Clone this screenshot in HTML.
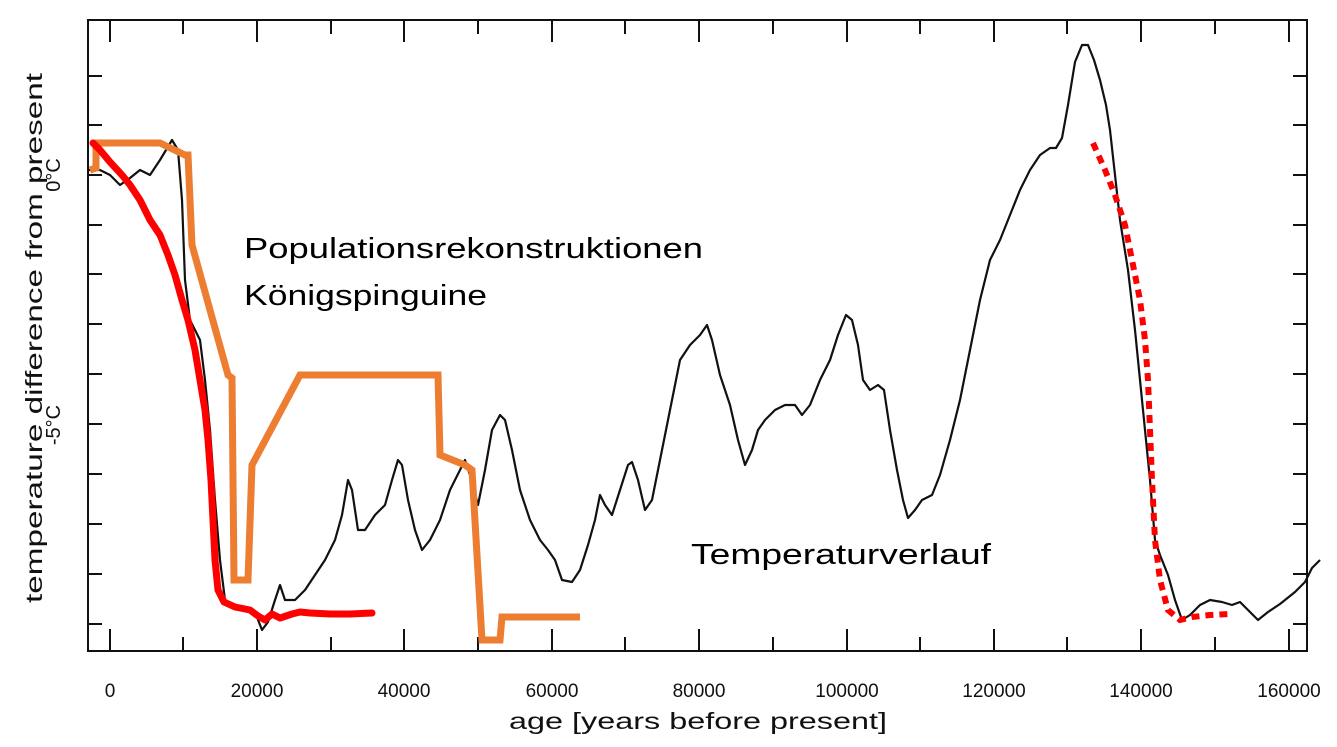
<!DOCTYPE html>
<html><head><meta charset="utf-8"><style>
html,body{margin:0;padding:0;background:#fff;}
svg{display:block;}
</style></head><body>
<svg width="1337" height="747" viewBox="0 0 1337 747" xmlns="http://www.w3.org/2000/svg">
<rect width="1337" height="747" fill="#fff"/>
<g stroke="#111" stroke-width="2" fill="none">
<rect x="88" y="20" width="1219" height="631"/>
<path d="M110,651v-22M183,651v-14M257,651v-22M331,651v-14M404,651v-22M478,651v-14M552,651v-22M625,651v-14M699,651v-22M773,651v-14M847,651v-22M920,651v-14M994,651v-22M1067,651v-14M1141,651v-22M1215,651v-14M1289,651v-22"/>
<path d="M110,20v22M183,20v14M257,20v22M331,20v14M404,20v22M478,20v14M552,20v22M625,20v14M699,20v22M773,20v14M847,20v22M920,20v14M994,20v22M1067,20v14M1141,20v22M1215,20v14M1289,20v22"/>
<path d="M88,76h14M88,125h14M88,175h14M88,225h14M88,274h14M88,324h14M88,374h14M88,424h14M88,474h14M88,524h14M88,574h14M88,624h14"/>
<path d="M1307,76h-14M1307,125h-14M1307,175h-14M1307,225h-14M1307,274h-14M1307,324h-14M1307,374h-14M1307,424h-14M1307,474h-14M1307,524h-14M1307,574h-14M1307,624h-14"/>
</g>
<g font-family="Liberation Sans, sans-serif" font-size="19" fill="#111" text-anchor="middle">
<text x="110" y="697">0</text>
<text x="257" y="697">20000</text>
<text x="404" y="697">40000</text>
<text x="552" y="697">60000</text>
<text x="699" y="697">80000</text>
<text x="847" y="697">100000</text>
<text x="994" y="697">120000</text>
<text x="1141" y="697">140000</text>
<text x="1289" y="697">160000</text>
<text x="698" y="729" font-size="23" textLength="378" lengthAdjust="spacingAndGlyphs">age [years before present]</text>
<text transform="translate(42,338) rotate(-90)" font-size="23" textLength="530" lengthAdjust="spacingAndGlyphs">temperature difference from present</text>
<text transform="translate(60,175) rotate(-90)" font-size="20">0°C</text>
<text transform="translate(60,425) rotate(-90)" font-size="20">-5°C</text>
</g>
<polyline fill="none" stroke="#111" stroke-width="2.2" stroke-linejoin="round" points="88,170 100,170 110,175 120,185 130,178 140,170 150,175 160,160 172,140 178,150 182,200 185,280 190,320 200,340 205,380 210,430 215,500 220,560 225,600 240,610 255,612 262,630 268,622 275,600 280,585 285,600 295,600 305,590 315,575 325,560 335,540 342,515 348,480 352,490 358,530 365,530 375,515 385,505 392,480 398,460 402,465 408,500 415,530 422,550 430,540 440,520 450,490 460,470 465,460 470,475 478,505 485,470 492,430 500,415 505,420 512,450 520,490 530,520 540,540 548,550 555,560 562,580 572,582 580,570 588,545 595,520 600,495 605,505 612,515 620,490 628,465 632,462 638,480 645,510 652,500 660,460 668,420 675,385 680,360 690,345 700,335 707,325 712,340 720,375 730,405 738,440 745,465 752,450 758,430 765,420 775,410 785,405 795,405 802,415 810,405 820,380 830,360 838,335 846,315 852,320 858,345 863,380 870,390 878,385 884,390 890,430 897,470 903,500 908,518 915,510 922,500 932,495 940,475 950,440 960,400 970,350 980,300 990,260 1000,240 1010,215 1020,190 1030,170 1040,155 1050,148 1056,148 1062,138 1068,105 1075,62 1082,45 1088,45 1094,60 1100,80 1106,105 1110,130 1115,175 1120,220 1128,270 1135,330 1140,380 1145,430 1150,480 1155,540 1160,555 1168,575 1175,600 1182,620 1190,615 1200,605 1210,600 1222,602 1232,605 1240,602 1250,612 1258,620 1268,612 1280,604 1295,592 1305,582 1312,568 1320,560"/>
<polyline fill="none" stroke="#ed7d31" stroke-width="7" stroke-linejoin="miter" points="90,170 96,168 96,143 160,143 185,155 188,155 192,245 228,375 232,378 234,580 248,580 252,465 300,375 438,375 440,455 465,465 472,470 482,640 500,640 502,617 580,617"/>
<polyline fill="none" stroke="#ff0000" stroke-width="7" stroke-linejoin="round" stroke-linecap="round" points="93,143 100,150 110,162 122,175 130,185 140,200 150,220 160,235 168,255 175,275 182,300 188,320 195,350 200,380 205,410 208,440 211,480 213,520 215,560 218,590 224,602 235,607 250,610 258,616 265,620 272,614 280,618 292,614 300,612 310,613 330,614 350,614 372,613"/>
<polyline fill="none" stroke="#ff0000" stroke-width="6" stroke-dasharray="8,6" points="1093,143 1105,170 1115,195 1125,225 1132,260 1140,300 1145,340 1148,380 1150,430 1152,480 1155,540 1160,580 1168,610 1180,620 1192,617 1210,615 1230,614"/>
<g font-family="Liberation Sans, sans-serif" font-size="29" fill="#000">
<text x="244" y="258" textLength="459" lengthAdjust="spacingAndGlyphs">Populationsrekonstruktionen</text>
<text x="244" y="305" textLength="243" lengthAdjust="spacingAndGlyphs">Königspinguine</text>
<text x="691" y="564" textLength="300" lengthAdjust="spacingAndGlyphs">Temperaturverlauf</text>
</g>
</svg>
</body></html>
